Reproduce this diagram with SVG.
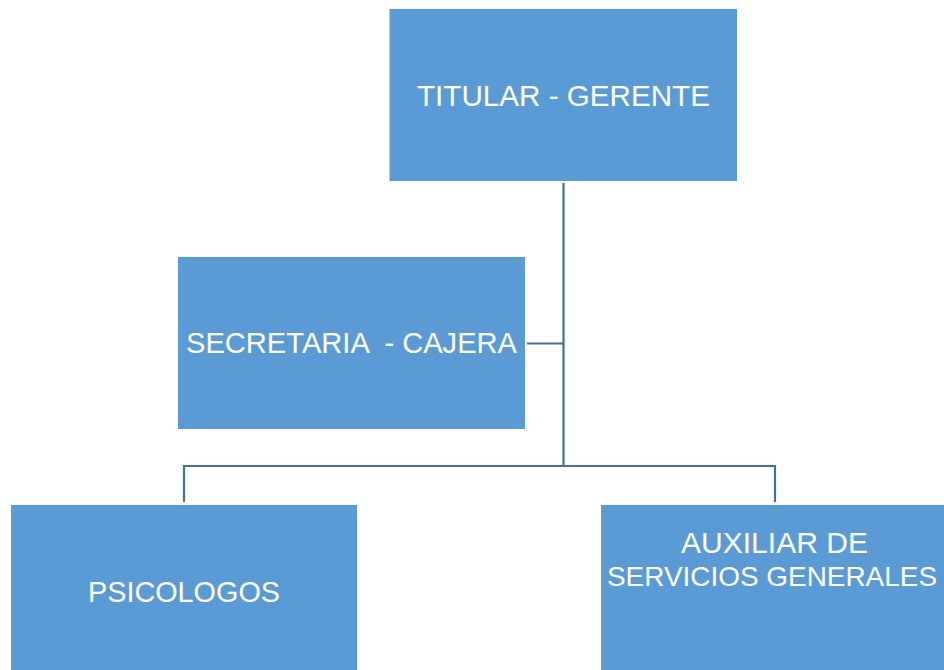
<svg xmlns="http://www.w3.org/2000/svg" width="944" height="670" viewBox="0 0 944 670">
<style>
.box{fill:#5B9BD5;}
.lbl{font-family:"Liberation Sans",Arial,sans-serif;font-size:29.5px;fill:#FFFFFF;text-anchor:middle;}
.ln{stroke:#41719C;stroke-width:2.2;fill:none;}
</style>
<rect width="944" height="670" fill="#FFFFFF"/>
<g id="connectors">
<path class="ln" d="M563.5,183 V466"/>
<path class="ln" d="M527,343.5 H563.5"/>
<path class="ln" d="M184,502 V466 H775 V502"/>
</g>
<g id="titular">
<rect class="box" x="389.5" y="9" width="347.5" height="172"/>
<text class="lbl" x="563.5" y="106" textLength="293" lengthAdjust="spacingAndGlyphs">TITULAR - GERENTE</text>
</g>
<g id="secretaria">
<rect class="box" x="178" y="257" width="347" height="172"/>
<text class="lbl" x="351.5" y="353" textLength="331" lengthAdjust="spacingAndGlyphs" xml:space="preserve">SECRETARIA  - CAJERA</text>
</g>
<g id="psicologos">
<rect class="box" x="11" y="505" width="346" height="172"/>
<text class="lbl" x="184" y="602" textLength="192" lengthAdjust="spacingAndGlyphs">PSICOLOGOS</text>
</g>
<g id="auxiliar">
<rect class="box" x="601" y="505" width="347" height="172"/>
<text class="lbl" x="774.5" y="553" textLength="187" lengthAdjust="spacingAndGlyphs">AUXILIAR DE</text>
<text class="lbl" x="772" y="586" style="font-size:28.3px" textLength="330" lengthAdjust="spacingAndGlyphs">SERVICIOS GENERALES</text>
</g>
</svg>
